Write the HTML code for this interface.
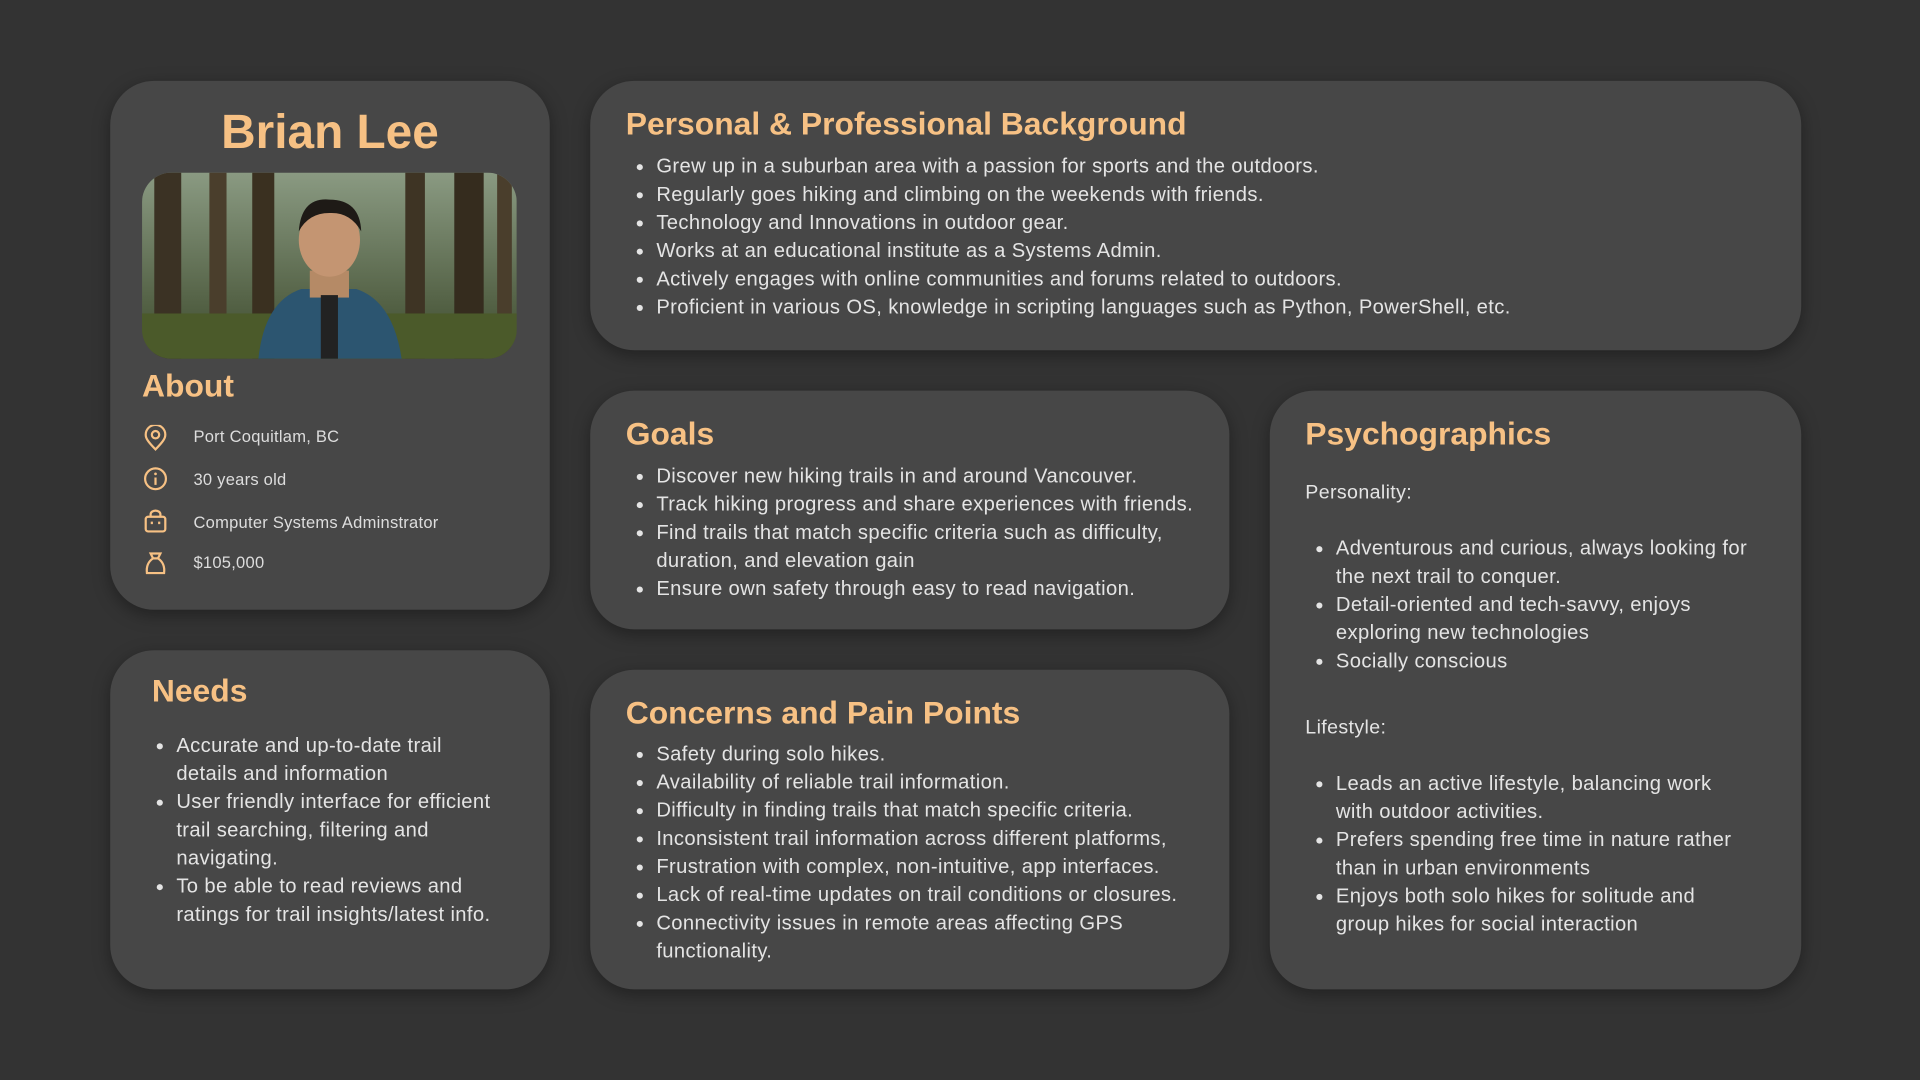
<!DOCTYPE html>
<html><head><meta charset="utf-8"><style>
html,body{margin:0;padding:0;background:#333333;width:1920px;height:1080px;overflow:hidden}
#root{position:absolute;left:0;top:0;width:1568px;height:882px;transform:scale(1.22449);transform-origin:0 0;font-family:"Liberation Sans",sans-serif;color:#e4e4e4}
.card{position:absolute;background:#474747;border-radius:36px;box-shadow:0 4px 14px rgba(0,0,0,.35)}
h1,h2{margin:0;color:#f7c184;font-weight:bold;position:absolute}
h2{font-size:26px}
ul{margin:0;padding-left:24px;position:absolute;font-size:16.5px;line-height:23px;letter-spacing:0.3px}
.lbl{position:absolute;font-size:16px;letter-spacing:0.3px}
.info{position:absolute;left:68px;font-size:13.5px;color:#ddd;letter-spacing:0.2px}
.ic{position:absolute;left:27px}
</style></head><body>
<div id="root">

<div class="card" style="left:90px;top:66px;width:359px;height:432px">
  <h1 style="left:0;width:359px;text-align:center;top:21px;font-size:39px">Brian Lee</h1>
  <svg style="position:absolute;left:26px;top:75px" width="306" height="152" viewBox="0 0 306 152">
    <defs><clipPath id="c"><rect width="306" height="152" rx="24"/></clipPath>
    <linearGradient id="bg" x1="0" y1="0" x2="0" y2="1"><stop offset="0" stop-color="#8a9a82"/><stop offset="1" stop-color="#3d4a2c"/></linearGradient></defs>
    <g clip-path="url(#c)">
      <rect width="306" height="152" fill="url(#bg)"/>
      <rect x="10" width="22" height="152" fill="#3b3224"/><rect x="55" width="14" height="152" fill="#4a3e2c"/>
      <rect x="90" width="18" height="152" fill="#3a3020"/><rect x="215" width="16" height="152" fill="#3e3424"/>
      <rect x="255" width="24" height="152" fill="#352c1e"/><rect x="290" width="12" height="152" fill="#4a3e2c"/>
      <rect y="115" width="306" height="37" fill="#4b5a2a"/>
      <path d="M95 152 Q100 105 130 95 L175 95 Q205 105 212 152Z" fill="#2c5570"/>
      <rect x="137" y="80" width="32" height="22" fill="#b58a66"/>
      <ellipse cx="153" cy="55" rx="25" ry="30" fill="#c49572"/>
      <path d="M128 48 Q130 20 153 22 Q178 22 179 48 Q170 32 153 33 Q136 33 128 48Z" fill="#1e1a16"/>
      <rect x="146" y="100" width="14" height="52" fill="#222"/>
    </g>
  </svg>
  <h2 style="left:26px;top:234px">About</h2>
  <svg class="ic" style="top:281px" width="20" height="22" viewBox="0 0 20 22"><path d="M10 20 C4 14 2 11 2 8 A8 8 0 0 1 18 8 C18 11 16 14 10 20Z" fill="none" stroke="#f7c184" stroke-width="1.8"/><circle cx="10" cy="8" r="3" fill="none" stroke="#f7c184" stroke-width="1.8"/></svg>
  <div class="info" style="top:283px">Port Coquitlam, BC</div>
  <svg class="ic" style="top:315px" width="20" height="20" viewBox="0 0 20 20"><circle cx="10" cy="10" r="8.5" fill="none" stroke="#f7c184" stroke-width="1.8"/><line x1="10" y1="9" x2="10" y2="15" stroke="#f7c184" stroke-width="1.8"/><circle cx="10" cy="6" r="1.1" fill="#f7c184"/></svg>
  <div class="info" style="top:318px">30 years old</div>
  <svg class="ic" style="top:350px" width="20" height="20" viewBox="0 0 20 20"><rect x="2" y="6" width="16" height="12" rx="2" fill="none" stroke="#f7c184" stroke-width="1.8"/><path d="M6 6 V4 A4 3 0 0 1 14 4 V6" fill="none" stroke="#f7c184" stroke-width="1.8"/><line x1="7" y1="10" x2="7" y2="12" stroke="#f7c184" stroke-width="1.8"/><line x1="13" y1="10" x2="13" y2="12" stroke="#f7c184" stroke-width="1.8"/></svg>
  <div class="info" style="top:353px">Computer Systems Adminstrator</div>
  <svg class="ic" style="top:384px" width="20" height="20" viewBox="0 0 20 20"><path d="M6 2 H14 L12 6 Q18 10 17 18 H3 Q2 10 8 6Z" fill="none" stroke="#f7c184" stroke-width="1.8"/><line x1="7" y1="6" x2="13" y2="6" stroke="#f7c184" stroke-width="1.8"/></svg>
  <div class="info" style="top:386px">$105,000</div>
</div>

<div class="card" style="left:482px;top:66px;width:989px;height:220px">
  <h2 style="left:29px;top:20px">Personal &amp; Professional Background</h2>
  <ul style="left:30px;top:59px">
    <li>Grew up in a suburban area with a passion for sports and the outdoors.</li>
    <li>Regularly goes hiking and climbing on the weekends with friends.</li>
    <li>Technology and Innovations in outdoor gear.</li>
    <li>Works at an educational institute as a Systems Admin.</li>
    <li>Actively engages with online communities and forums related to outdoors.</li>
    <li>Proficient in various OS, knowledge in scripting languages such as Python, PowerShell, etc.</li>
  </ul>
</div>

<div class="card" style="left:482px;top:319px;width:522px;height:195px">
  <h2 style="left:29px;top:20px">Goals</h2>
  <ul style="left:30px;top:59px;width:460px">
    <li>Discover new hiking trails in and around Vancouver.</li>
    <li>Track hiking progress and share experiences with friends.</li>
    <li>Find trails that match specific criteria such as difficulty, duration, and elevation gain</li>
    <li>Ensure own safety through easy to read navigation.</li>
  </ul>
</div>

<div class="card" style="left:482px;top:547px;width:522px;height:261px">
  <h2 style="left:29px;top:20px">Concerns and Pain Points</h2>
  <ul style="left:30px;top:58px;width:455px">
    <li>Safety during solo hikes.</li>
    <li>Availability of reliable trail information.</li>
    <li>Difficulty in finding trails that match specific criteria.</li>
    <li>Inconsistent trail information across different platforms,</li>
    <li>Frustration with complex, non-intuitive, app interfaces.</li>
    <li>Lack of real-time updates on trail conditions or closures.</li>
    <li>Connectivity issues in remote areas affecting GPS functionality.</li>
  </ul>
</div>

<div class="card" style="left:90px;top:531px;width:359px;height:277px">
  <h2 style="left:34px;top:18px">Needs</h2>
  <ul style="left:30px;top:67px;width:262px">
    <li>Accurate and up-to-date trail details and information</li>
    <li>User friendly interface for efficient trail searching, filtering and navigating.</li>
    <li>To be able to read reviews and ratings for trail insights/latest info.</li>
  </ul>
</div>

<div class="card" style="left:1037px;top:319px;width:434px;height:489px">
  <h2 style="left:29px;top:20px">Psychographics</h2>
  <div class="lbl" style="left:29px;top:75px">Personality:</div>
  <ul style="left:30px;top:118px;width:355px">
    <li>Adventurous and curious, always looking for the next trail to conquer.</li>
    <li>Detail-oriented and tech-savvy, enjoys exploring new technologies</li>
    <li>Socially conscious</li>
  </ul>
  <div class="lbl" style="left:29px;top:267px">Lifestyle:</div>
  <ul style="left:30px;top:310px;width:340px">
    <li>Leads an active lifestyle, balancing work with outdoor activities.</li>
    <li>Prefers spending free time in nature rather than in urban environments</li>
    <li>Enjoys both solo hikes for solitude and group hikes for social interaction</li>
  </ul>
</div>

</div>
</body></html>
